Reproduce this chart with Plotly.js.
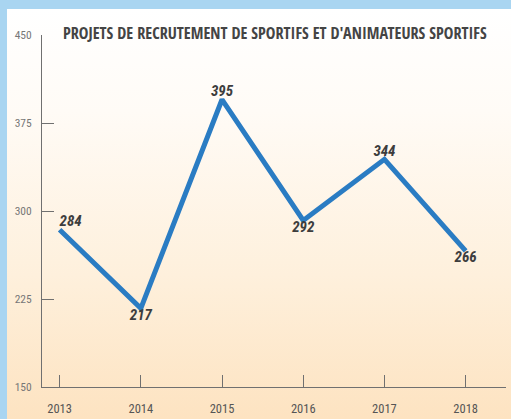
<!DOCTYPE html>
<html>
<head>
<meta charset="utf-8">
<script src="https://cdn.plot.ly/plotly-3.0.1.min.js"></script>
<style>
  html, body { margin: 0; padding: 0; }
  body { width: 511px; height: 419px; background: #a9d5f1; position: relative; overflow: hidden; }
  #panel { position: absolute; left: 7px; top: 9px; width: 504px; height: 410px;
           background: linear-gradient(to bottom, #ffffff 0%, #fffbf6 25%, #fef0dc 65%, #fde3c1 100%); }
  #chart { position: absolute; left: 0; top: 0; width: 511px; height: 419px; }
</style>
</head>
<body>
<div id="panel"></div>
<div id="chart"></div>
<script>
const years = [2013, 2014, 2015, 2016, 2017, 2018];
const recruitmentProjects = [284, 217, 395, 292, 344, 266];
const labelPositions = ['top right', 'bottom center', 'top center', 'bottom center', 'top center', 'bottom center'];
const yTicks = [150, 225, 300, 375, 450];
const chartTitle = "PROJETS DE RECRUTEMENT DE SPORTIFS ET D'ANIMATEURS SPORTIFS";

const narrow = '"Roboto Condensed", "Open Sans Condensed", sans-serif';
const titleFont = '"Open Sans Condensed", "Roboto Condensed", sans-serif';

const trace = {
  x: years,
  y: recruitmentProjects,
  type: 'scatter',
  mode: 'lines+text',
  line: { color: '#2a7cc3', width: 5 },
  text: recruitmentProjects.map(String),
  textposition: labelPositions,
  textfont: { family: narrow, size: 15, color: '#3d3d3d', weight: 'bold', style: 'italic' },
  hoverinfo: 'none',
  cliponaxis: false
};

const layout = {
  width: 511,
  height: 419,
  margin: { l: 42, r: 5, t: 35, b: 32 },
  paper_bgcolor: 'rgba(0,0,0,0)',
  plot_bgcolor: 'rgba(0,0,0,0)',
  showlegend: false,
  title: {
    text: '<b>' + chartTitle + '</b>',
    xref: 'container', yref: 'container',
    x: 63 / 511, xanchor: 'left',
    y: 1 - 33 / 419, yanchor: 'middle',
    font: { family: titleFont, size: 16.2, color: '#444444' }
  },
  xaxis: {
    range: [2012.783, 2018.497],
    tickmode: 'array',
    tickvals: years,
    ticktext: years.map(String),
    ticks: 'inside',
    ticklen: 12,
    tickcolor: '#707070',
    tickwidth: 1,
    showline: true,
    linecolor: '#707070',
    linewidth: 1,
    showgrid: false,
    zeroline: false,
    ticklabelstandoff: 10,
    tickfont: { family: narrow, size: 12.5, color: '#555555' }
  },
  yaxis: {
    range: [150, 450],
    tickmode: 'array',
    tickvals: yTicks,
    ticks: 'inside',
    ticklen: 12,
    tickcolor: '#707070',
    tickwidth: 1,
    showline: true,
    linecolor: '#707070',
    linewidth: 1,
    showgrid: false,
    zeroline: false,
    ticklabelstandoff: 7,
    tickfont: { family: narrow, size: 11.5, color: '#777777' }
  }
};

Plotly.newPlot('chart', [trace], layout, { displayModeBar: false, staticPlot: true });
</script>
</body>
</html>
